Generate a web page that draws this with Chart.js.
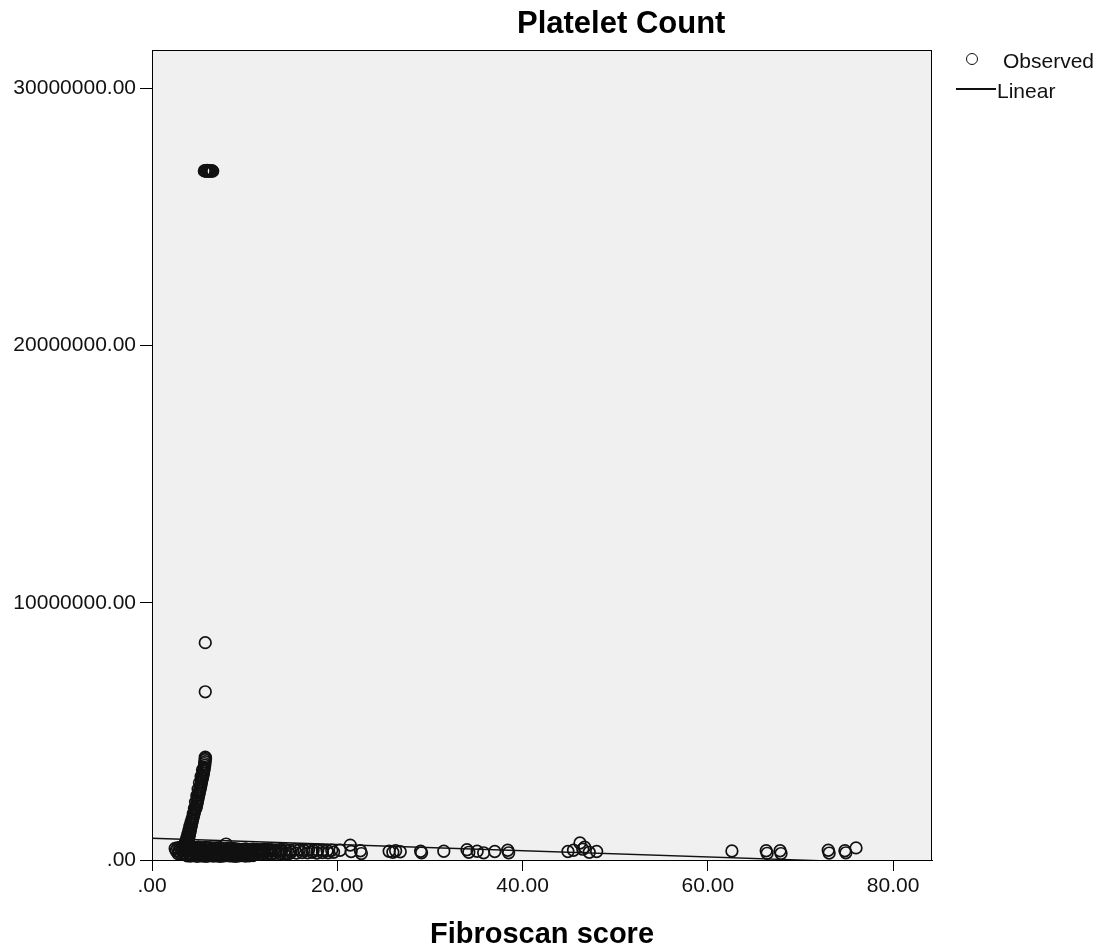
<!DOCTYPE html>
<html>
<head>
<meta charset="utf-8">
<script src="https://cdn.jsdelivr.net/npm/chart.js@4.4.1/dist/chart.umd.min.js"></script>
<style>
  html, body { margin: 0; padding: 0; background: #fff; }
  #wrap { position: relative; width: 1099px; height: 952px; font-family: "Liberation Sans", Arial, sans-serif; color: #000; }
  #wrap canvas { position: absolute; left: 0; top: 0; }
  .txt { position: absolute; white-space: nowrap; line-height: 1; }
  .title { font-weight: bold; font-size: 31px; }
  .xtitle { font-weight: bold; font-size: 29px; }
  .leg { font-size: 21px; color: #111; }
  .legCircle { position: absolute; width: 10px; height: 10px; border: 1.7px solid #111; border-radius: 50%; }
  .legLine { position: absolute; height: 1.5px; background: #111; }
</style>
</head>
<body>
<div id="wrap">
  <canvas id="chart" width="1099" height="952"></canvas>
  <div class="txt title" id="title">Platelet Count</div>
  <div class="txt xtitle" id="xtitle">Fibroscan score</div>
  <div class="legCircle" style="left:966px;top:53px"></div>
  <div class="txt leg" style="left:1003px;top:50px">Observed</div>
  <div class="legLine" style="left:956px;top:88px;width:40px"></div>
  <div class="txt leg" style="left:997px;top:80px">Linear</div>
</div>
<script>
// extreme values near the top of the plot
const extremeX = [5.65, 5.75, 5.85, 5.95, 6.05, 6.15, 6.25, 6.35, 6.45, 6.55, 5.75, 5.75];
const extremeY = [26790000, 26800000, 26770000, 26810000, 26780000, 26800000, 26790000, 26770000, 26800000, 26780000, 8450000, 6540000];

// the steep column of points around fibroscan 4-6
const spikeX = [5.75, 5.78, 5.72, 5.74, 5.68, 5.70, 5.64, 5.62, 5.57, 5.55, 5.50, 5.46, 5.40, 5.36, 5.33, 5.28,
  5.24, 5.20, 5.15, 5.10, 5.06, 5.00, 4.97, 4.92, 4.88, 4.84, 4.80, 4.74, 4.64, 4.59, 4.54, 4.48, 4.43, 4.38,
  4.33, 4.28, 4.24, 4.20, 4.15, 4.11, 4.07, 4.03, 3.99, 3.95, 3.90, 3.85, 3.80];
const spikeY = [4000000, 3950000, 3900000, 3820000, 3750000, 3680000, 3600000, 3520000, 3450000, 3380000, 3300000,
  3220000, 3150000, 3080000, 3000000, 2920000, 2850000, 2780000, 2700000, 2620000, 2550000, 2480000, 2400000,
  2320000, 2250000, 2180000, 2100000, 2020000, 1950000, 1880000, 1800000, 1720000, 1650000, 1580000, 1500000,
  1420000, 1350000, 1280000, 1200000, 1120000, 1050000, 980000, 900000, 820000, 750000, 680000, 620000];
// second, slightly left-hand column of the same spike
const spikeX2 = [5.45, 5.30, 5.12, 4.98, 4.84, 4.70, 4.58, 4.45, 4.32, 4.20, 4.08, 3.98, 3.88, 3.78, 3.70, 3.62, 3.55];
const spikeY2 = [3500000, 3250000, 3000000, 2750000, 2500000, 2250000, 2000000, 1800000, 1600000, 1450000, 1300000,
  1150000, 1000000, 880000, 780000, 690000, 610000];

// dense band of low counts, fibroscan 2.5-20 (rows from top to bottom of the band)
const bandX = [
  2.5, 2.75, 3.0, 3.25, 3.5, 3.75, 4.0, 4.25, 4.5, 4.75, 5.0, 5.25, 5.5, 5.75, 6.0, 6.25, 6.5, 6.75, 7.0, 7.25,
  7.5, 7.75, 8.0, 8.25, 8.5, 8.75, 9.0,
  9.3, 9.7, 10.1, 10.5, 10.9, 11.3, 11.7, 12.1, 12.5, 12.9, 13.4, 13.9, 14.4, 14.9, 15.4, 15.9, 16.4, 16.9, 17.4,
  17.9, 18.4, 18.9, 19.4,
  2.6, 2.9, 3.2, 3.5, 3.8, 4.1, 4.4, 4.7, 5.0, 5.3, 5.6, 5.9, 6.2, 6.5, 6.8, 7.1, 7.4, 7.7, 8.0, 8.3, 8.6, 8.9,
  9.2, 9.5, 9.8, 10.1, 10.4, 10.7, 11.0, 11.3, 11.6, 11.9, 12.2, 12.5, 12.8, 13.1, 13.4, 13.7, 14.0,
  14.5, 15.0, 15.6, 16.2, 16.8, 17.3, 17.8, 18.4, 19.0, 19.6,
  2.8, 3.1, 3.4, 3.7, 4.0, 4.3, 4.6, 4.9, 5.2, 5.5, 5.8, 6.1, 6.4, 6.7, 7.0, 7.3, 7.6, 7.9, 8.2, 8.5, 8.8, 9.1,
  9.4, 9.7, 10.0, 10.3, 10.6, 10.9, 11.2, 11.5, 11.8, 12.1, 12.5, 12.9, 13.3, 13.8, 14.3, 14.8,
  3.8, 4.15, 4.5, 4.85, 5.2, 5.55, 5.9, 6.25, 6.6, 6.95, 7.3, 7.65, 8.0, 8.35, 8.7, 9.05, 9.4, 9.75, 10.1, 10.5, 10.9
];
const bandY = [
  450000, 470000, 490000, 500000, 480000, 510000, 520000, 500000, 490000, 470000, 500000, 480000, 460000, 490000,
  470000, 480000, 450000, 470000, 460000, 480000, 450000, 440000, 620000, 460000, 440000, 450000, 430000,
  420000, 410000, 430000, 400000, 420000, 410000, 400000, 420000, 410000, 400000, 390000, 410000, 400000, 380000,
  400000, 390000, 380000, 400000, 370000, 390000, 380000, 370000, 380000,
  360000, 340000, 370000, 350000, 380000, 360000, 340000, 370000, 350000, 360000, 340000, 380000, 350000, 360000,
  340000, 370000, 350000, 360000, 340000, 370000, 350000, 360000, 380000, 350000, 370000, 340000, 360000, 380000,
  350000, 370000, 360000, 340000, 380000, 360000, 350000, 370000, 340000, 360000, 350000,
  280000, 300000, 270000, 290000, 280000, 300000, 270000, 290000, 280000, 300000,
  250000, 240000, 260000, 230000, 250000, 240000, 260000, 250000, 230000, 240000, 260000, 250000, 240000, 230000,
  250000, 260000, 240000, 250000, 230000, 260000, 240000, 250000, 260000, 240000, 230000, 250000, 240000, 260000,
  250000, 230000, 240000, 260000, 250000, 240000, 260000, 250000, 230000, 250000,
  160000, 150000, 170000, 140000, 160000, 150000, 140000, 170000, 150000, 160000, 140000, 150000, 170000, 160000,
  150000, 140000, 160000, 170000, 150000, 160000, 170000
];

// scattered points at higher fibroscan scores
const sparseX = [20.3, 21.4, 21.5, 22.5, 22.6, 25.6, 26.0, 26.3, 26.8, 29.0, 29.1, 31.5, 34.0, 34.2, 35.1, 35.8, 37.0, 38.4, 38.5,
  44.9, 45.5, 46.2, 46.5, 46.7, 47.2, 48.0, 62.6, 66.3, 66.4, 67.8, 67.9, 73.0, 73.1, 74.8, 74.9, 76.0];
const sparseY = [380000, 580000, 330000, 360000, 250000, 340000, 300000, 360000, 320000, 340000, 280000, 340000, 400000, 300000, 340000, 280000, 330000, 380000, 280000,
  330000, 380000, 660000, 420000, 500000, 300000, 330000, 350000, 360000, 260000, 360000, 250000, 380000, 270000, 360000, 280000, 470000];

// linear fit, end points across the x range
const linearX = [0, 84.2];
const linearY = [845000, -174000];

const xTicks = [0, 20, 40, 60, 80];
const yTicks = [0, 10000000, 20000000, 30000000];
const xMax = 84.2;
const yMax = 31490000;

const pts = (xs, ys) => xs.map((x, i) => ({ x, y: ys[i] }));
const observed = [].concat(
  pts(extremeX, extremeY), pts(spikeX, spikeY), pts(spikeX2, spikeY2), pts(bandX, bandY), pts(sparseX, sparseY)
);

const fmt = v => v === 0 ? '.00' : v.toFixed(2);
const tickFont = { family: '"Liberation Sans", Arial, sans-serif', size: 21 };

const plotFrame = {
  id: 'plotFrame',
  beforeDatasetsDraw(chart) {
    const a = chart.chartArea, c = chart.ctx;
    c.save();
    c.fillStyle = '#f0f0f0';
    c.fillRect(a.left, a.top, a.right - a.left, a.bottom - a.top);
    c.strokeStyle = '#000';
    c.lineWidth = 1;
    c.strokeRect(a.left + 0.5, a.top + 0.5, a.right - a.left - 1, a.bottom - a.top);
    c.restore();
  }
};

new Chart(document.getElementById('chart'), {
  type: 'scatter',
  data: {
    datasets: [
      {
        label: 'Observed',
        data: observed,
        pointRadius: 5.8,
        pointBorderWidth: 1.7,
        borderColor: '#111',
        backgroundColor: 'rgba(0,0,0,0)',
        clip: false,
        order: 2
      },
      {
        label: 'Linear',
        data: pts(linearX, linearY),
        showLine: true,
        pointRadius: 0,
        borderColor: '#111',
        borderWidth: 1.4,
        order: 1
      }
    ]
  },
  plugins: [plotFrame],
  options: {
    responsive: false,
    animation: false,
    layout: { padding: { left: 0, right: 167, top: 50, bottom: 0 } },
    plugins: { legend: { display: false }, title: { display: false }, tooltip: { enabled: false } },
    scales: {
      x: {
        type: 'linear',
        min: 0,
        max: xMax,
        afterFit(s) { s.height = 92; },
        afterBuildTicks(s) { s.ticks = xTicks.map(v => ({ value: v })); },
        grid: { drawOnChartArea: false, drawTicks: true, tickLength: 11, color: '#000' },
        border: { display: true, color: '#000' },
        ticks: { color: '#111', font: tickFont, padding: 3, callback: fmt, maxRotation: 0 }
      },
      y: {
        type: 'linear',
        min: 0,
        max: yMax,
        afterFit(s) { s.width = 152; },
        afterBuildTicks(s) { s.ticks = yTicks.map(v => ({ value: v })); },
        grid: { drawOnChartArea: false, drawTicks: true, tickLength: 12, color: '#000' },
        border: { display: true, color: '#000' },
        ticks: { color: '#111', font: tickFont, padding: 4, callback: fmt }
      }
    }
  }
});

// centre the two titles on their spots
const t = document.getElementById('title');
t.style.left = (621 - t.offsetWidth / 2) + 'px';
t.style.top = '7px';
const xt = document.getElementById('xtitle');
xt.style.left = (542 - xt.offsetWidth / 2) + 'px';
xt.style.top = '919px';
</script>
</body>
</html>
